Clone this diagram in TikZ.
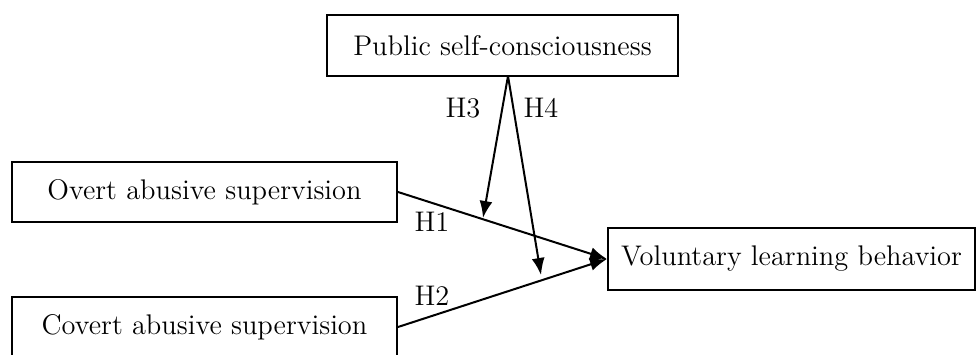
\documentclass[tikz,border=0pt]{standalone}
\usetikzlibrary{arrows.meta}
\begin{document}
\begin{tikzpicture}[x=0.5pt,y=-0.5pt,
  box/.style={draw,line width=1pt,inner sep=0pt,font=\fontsize{14.2}{17}\selectfont},
  lbl/.style={inner sep=0pt,font=\fontsize{14.2}{17}\selectfont},
  link/.style={line width=1pt,-{Latex[length=8.5pt,width=6.5pt]}}]
\useasboundingbox (0,0) rectangle (978,354);
\node[box,minimum width=175.5pt,minimum height=30.5pt] (pub) at (502.5,45.5) {Public self-consciousness};
\node[box,minimum width=192.5pt,minimum height=30pt] (overt) at (204.5,192) {Overt abusive supervision};
\node[box,minimum width=192.5pt,minimum height=30pt] (covert) at (204.5,327) {Covert abusive supervision};
\node[box,minimum width=183.5pt,minimum height=31pt] (vol) at (791.5,259) {Voluntary learning behavior};
\coordinate (ps) at (508,76);
\coordinate (m1) at (483,218);
\coordinate (m2) at (541,275);
\draw[link] (overt.east) -- (vol.west);
\draw[link] (covert.east) -- (vol.west);
\draw[link] (ps) -- (m1);
\draw[link] (ps) -- (m2);
\node[lbl] (h3) at (463,108) {H3};
\node[lbl] (h4) at (541,108) {H4};
\node[lbl] (h1) at (432,222) {H1};
\node[lbl] (h2) at (432,296) {H2};
\end{tikzpicture}
\end{document}
